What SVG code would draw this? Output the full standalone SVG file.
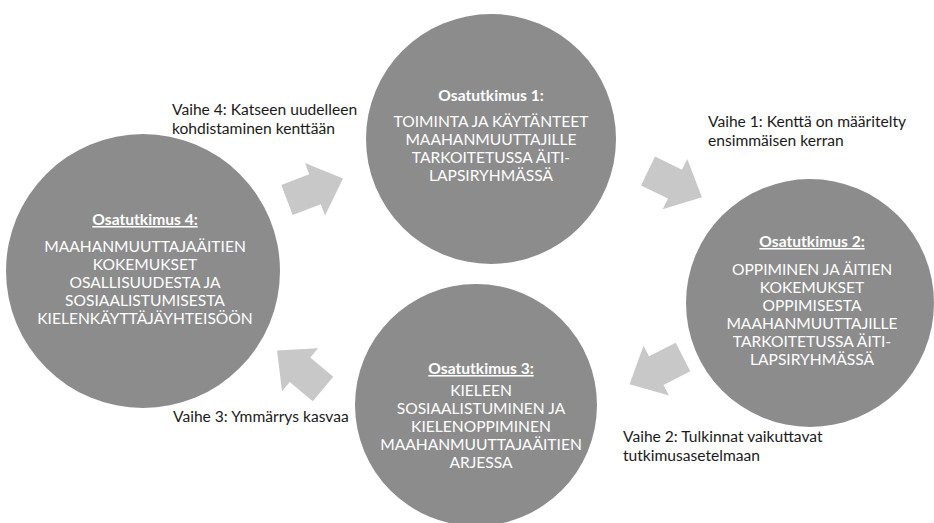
<svg xmlns="http://www.w3.org/2000/svg" width="934" height="523" viewBox="0 0 934 523">
<defs>
<style>
.c{fill:#8c8c8c}
.a{fill:#c8c8c8}
.t{font-family:Lato,"Liberation Sans",sans-serif;font-size:15.6px;fill:#ffffff;text-anchor:middle}
.h{font-weight:bold}
.u{text-decoration:underline}
.l{font-family:Lato,"Liberation Sans",sans-serif;font-size:15.6px;fill:#1a1a1a}
</style>
<polygon id="arr" points="0,-16 30,-16 30,-28 60,0 30,28 30,16 0,16"/>
</defs>
<rect width="934" height="523" fill="#ffffff"/>
<g id="connectors">
<use href="#arr" class="a" transform="translate(287,200) rotate(-21)"/>
<use href="#arr" class="a" transform="translate(648,171) rotate(26)"/>
<use href="#arr" class="a" transform="translate(683,357) rotate(153)"/>
<use href="#arr" class="a" transform="translate(323,389) rotate(-140)"/>
</g>
<g id="node1">
<circle class="c" cx="491" cy="139" r="125"/>
<text class="t h" x="491" y="101">Osatutkimus 1:</text>
<text class="t" x="491" y="127">TOIMINTA JA KÄYTÄNTEET</text>
<text class="t" x="491" y="145">MAAHANMUUTTAJILLE</text>
<text class="t" x="491" y="163">TARKOITETUSSA ÄITI-</text>
<text class="t" x="491" y="181">LAPSIRYHMÄSSÄ</text>
</g>
<g id="node2">
<circle class="c" cx="810" cy="303" r="124"/>
<text class="t h u" x="812" y="247">Osatutkimus 2:</text>
<text class="t" x="812" y="275">OPPIMINEN JA ÄITIEN</text>
<text class="t" x="812" y="293">KOKEMUKSET</text>
<text class="t" x="812" y="311">OPPIMISESTA</text>
<text class="t" x="812" y="329">MAAHANMUUTTAJILLE</text>
<text class="t" x="812" y="347">TARKOITETUSSA ÄITI-</text>
<text class="t" x="812" y="365">LAPSIRYHMÄSSÄ</text>
</g>
<g id="node3">
<circle class="c" cx="476" cy="405" r="121"/>
<text class="t h u" x="481" y="374">Osatutkimus 3:</text>
<text class="t" x="481" y="396">KIELEEN</text>
<text class="t" x="481" y="414">SOSIAALISTUMINEN JA</text>
<text class="t" x="481" y="432">KIELENOPPIMINEN</text>
<text class="t" x="481" y="450">MAAHANMUUTTAJAÄITIEN</text>
<text class="t" x="481" y="468">ARJESSA</text>
</g>
<g id="node4">
<circle class="c" cx="143" cy="271" r="137"/>
<text class="t h u" x="145" y="225">Osatutkimus 4:</text>
<text class="t" x="145" y="252">MAAHANMUUTTAJAÄITIEN</text>
<text class="t" x="145" y="270">KOKEMUKSET</text>
<text class="t" x="145" y="288">OSALLISUUDESTA JA</text>
<text class="t" x="145" y="306">SOSIAALISTUMISESTA</text>
<text class="t" x="145" y="324">KIELENKÄYTTÄJÄYHTEISÖÖN</text>
</g>
<g id="labels">
<text class="l" x="172" y="115">Vaihe 4: Katseen uudelleen</text>
<text class="l" x="172" y="134">kohdistaminen kenttään</text>
<text class="l" x="708" y="127">Vaihe 1: Kenttä on määritelty</text>
<text class="l" x="708" y="146">ensimmäisen kerran</text>
<text class="l" x="623" y="442">Vaihe 2: Tulkinnat vaikuttavat</text>
<text class="l" x="623" y="461">tutkimusasetelmaan</text>
<text class="l" x="173" y="422">Vaihe 3: Ymmärrys kasvaa</text>
</g>
</svg>
